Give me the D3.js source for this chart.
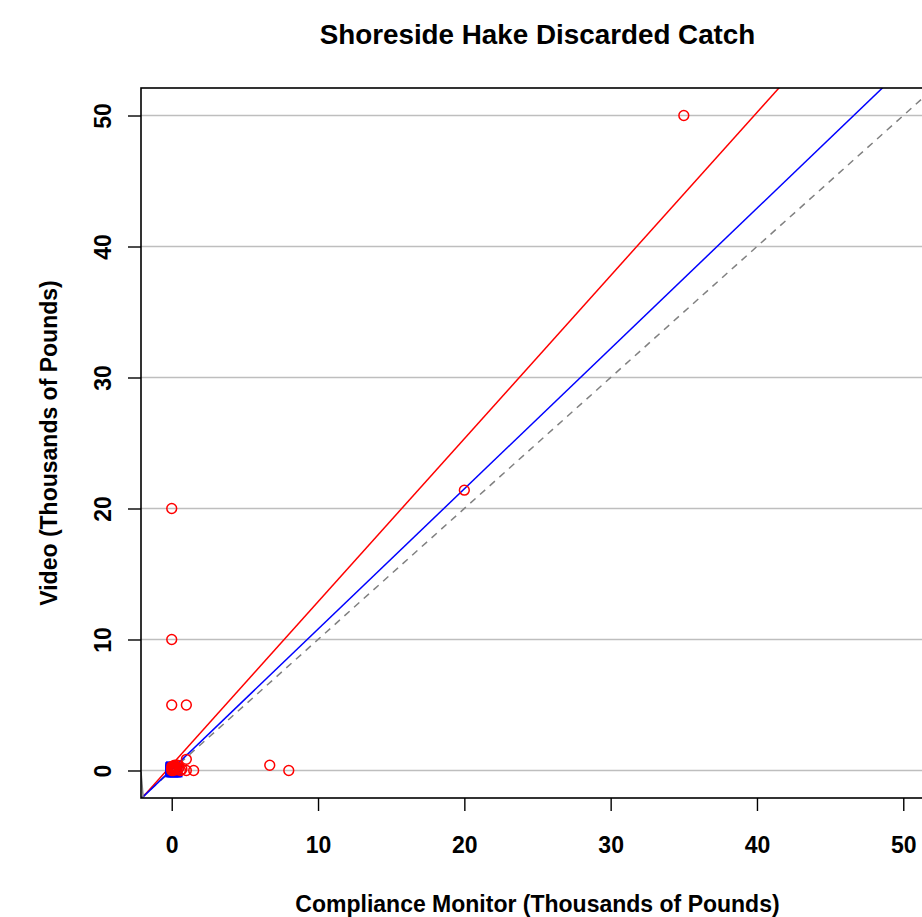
<!DOCTYPE html>
<html>
<head>
<meta charset="utf-8">
<script src="https://cdn.jsdelivr.net/npm/d3@7"></script>
<style>
  body { margin: 0; background: #fff; }
  text { font-family: "Liberation Sans", Arial, sans-serif; font-weight: bold; }
</style>
</head>
<body>
<div id="chart"></div>
<script>
// compliance monitor vs video, thousands of pounds
var cmX    = [35, 20, 0, 0, 0, 1, 6.7, 8, 1.5, 1.0, 1.0, 0.6, 0.4, 0.2, 0, 0.1, 0.3, 0.5, 0.2, 0, 0.1, 0.7, 0.05, 0.15, 0.25, 0.35, 0, 0.1];
var videoY = [50, 21.4, 20, 10, 5, 5, 0.4, 0, 0, 0, 0.85, 0, 0.4, 0.4, 0.3, 0, 0.1, 0.2, 0.1, 0, 0.2, 0.1, 0.05, 0.25, 0.3, 0.05, 0.15, 0.35];

// blue squares near origin
var sqX = [0, 0.1, 0.2, 0, 0.05, 0.15, 0, 0.3];
var sqY = [0, 0, 0, 0.1, 0.25, 0.1, 0.2, 0];

// fitted lines
var fitNames      = ["red", "blue"];
var fitIntercepts = [0.43, 0.08];
var fitSlopes     = [1.245, 1.071];

// short grey curve at lower left
var curveX = [-2.1, -1.95];
var curveY = [-0.1, -2.1];

var xTicks = [0, 10, 20, 30, 40, 50];
var yTicks = [0, 10, 20, 30, 40, 50];

var W = 922, H = 917;
var pLeft = 141, pRight = 934, pTop = 88, pBottom = 798;

var svg = d3.select("#chart").append("svg")
  .attr("width", W).attr("height", H);

var x = d3.scaleLinear().domain([-2.1, 52.1]).range([pLeft, pRight]);
var y = d3.scaleLinear().domain([-2.1, 52.1]).range([pBottom, pTop]);

svg.append("clipPath").attr("id", "clip")
  .append("rect").attr("x", pLeft).attr("y", pTop)
  .attr("width", pRight - pLeft).attr("height", pBottom - pTop);

// gridlines
svg.append("g").selectAll("line").data(yTicks).enter().append("line")
  .attr("x1", pLeft).attr("x2", pRight)
  .attr("y1", function(d){ return y(d); }).attr("y2", function(d){ return y(d); })
  .style("stroke", "#bebebe").style("stroke-width", 1.5);

var plot = svg.append("g").attr("clip-path", "url(#clip)");

// 1:1 line
plot.append("line")
  .attr("x1", x(-2.1)).attr("y1", y(-2.1)).attr("x2", x(52.1)).attr("y2", y(52.1))
  .style("stroke", "#808080").style("stroke-width", 1.5).style("stroke-dasharray", "7,6");

// fitted lines
var fitColors = { red: "#ff0000", blue: "#0000ff" };
fitNames.forEach(function(n, i){
  var a = fitIntercepts[i], b = fitSlopes[i];
  plot.append("line")
    .attr("x1", x(-3)).attr("y1", y(a + b * -3))
    .attr("x2", x(60)).attr("y2", y(a + b * 60))
    .style("stroke", fitColors[n]).style("stroke-width", 1.5);
});

plot.append("path")
  .datum(d3.range(curveX.length))
  .attr("d", d3.line().x(function(i){ return x(curveX[i]); }).y(function(i){ return y(curveY[i]); }))
  .style("fill", "none").style("stroke", "#808080").style("stroke-width", 1.5);

// blue squares
plot.selectAll("rect.sq").data(d3.range(sqX.length)).enter().append("rect")
  .attr("class", "sq")
  .attr("x", function(i){ return x(sqX[i]) - 5.5; })
  .attr("y", function(i){ return y(sqY[i]) - 5; })
  .attr("width", 11).attr("height", 11)
  .style("fill", "none").style("stroke", "#0000ff").style("stroke-width", 1.8);

// red circles
plot.selectAll("circle").data(d3.range(cmX.length)).enter().append("circle")
  .attr("cx", function(i){ return x(cmX[i]); })
  .attr("cy", function(i){ return y(videoY[i]); })
  .attr("r", 4.9)
  .style("fill", "none").style("stroke", "#ff0000").style("stroke-width", 1.5);

// box
svg.append("rect").attr("x", pLeft).attr("y", pTop)
  .attr("width", pRight - pLeft).attr("height", pBottom - pTop)
  .style("fill", "none").style("stroke", "#000").style("stroke-width", 1.6);

// axes
var xAxis = svg.append("g").attr("transform", "translate(0," + pBottom + ")")
  .call(d3.axisBottom(x).tickValues(xTicks).tickSize(13).tickPadding(0).tickFormat(d3.format("d")));
xAxis.select(".domain").remove();
xAxis.selectAll("line").style("stroke", "#000").style("stroke-width", 1.4);
xAxis.selectAll("text").attr("y", 55).attr("dy", null)
  .style("font-size", "23px").style("fill", "#000");

var yAxis = svg.append("g").attr("transform", "translate(" + pLeft + ",0)")
  .call(d3.axisLeft(y).tickValues(yTicks).tickSize(13).tickFormat(d3.format("d")));
yAxis.select(".domain").remove();
yAxis.selectAll("line").style("stroke", "#000").style("stroke-width", 1.4);
yAxis.selectAll("text")
  .attr("x", null).attr("dy", null)
  .attr("transform", "translate(-30.5,0) rotate(-90)")
  .attr("text-anchor", "middle")
  .style("font-size", "23px").style("fill", "#000");

// titles
svg.append("text").attr("x", (pLeft + pRight) / 2).attr("y", 44)
  .attr("text-anchor", "middle").style("font-size", "27.8px")
  .text("Shoreside Hake Discarded Catch");

svg.append("text").attr("x", (pLeft + pRight) / 2).attr("y", 912)
  .attr("text-anchor", "middle").style("font-size", "23px")
  .text("Compliance Monitor (Thousands of Pounds)");

svg.append("text")
  .attr("transform", "translate(57," + (pTop + pBottom) / 2 + ") rotate(-90)")
  .attr("text-anchor", "middle").style("font-size", "23px")
  .text("Video (Thousands of Pounds)");
</script>
</body>
</html>
